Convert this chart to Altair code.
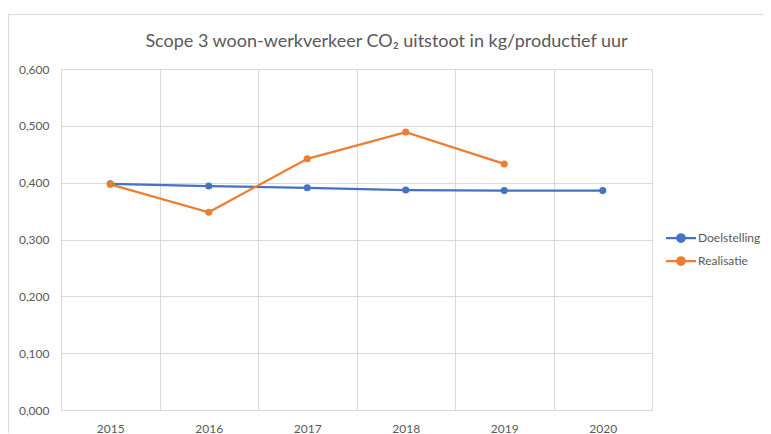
import altair as alt
import pandas as pd

years = ["2015", "2016", "2017", "2018", "2019", "2020"]
doelstelling = [0.398, 0.394, 0.391, 0.387, 0.386, 0.386]
realisatie = [0.397, 0.348, 0.442, 0.489, 0.433, None]
series_names = ["Doelstelling", "Realisatie"]
series_colors = ["#4472C4", "#ED7D31"]
y_ticks = [0.0, 0.1, 0.2, 0.3, 0.4, 0.5, 0.6]
title_text = "Scope 3 woon-werkverkeer CO\u2082 uitstoot in kg/productief uur"

rows = []
for name, vals in zip(series_names, [doelstelling, realisatie]):
    for yr, v in zip(years, vals):
        if v is not None:
            rows.append({"year": yr, "series": name, "value": v})
df = pd.DataFrame(rows)

FONT = "Lato"
GRAY = "#595959"
GRID = "#D9D9D9"

legend_symbol = (
    "M-1.2,0L1.2,0 "
    "M-0.3,0A0.3,0.3 0 1,0 0.3,0A0.3,0.3 0 1,0 -0.3,0 "
    "M-0.15,0A0.15,0.15 0 1,0 0.15,0A0.15,0.15 0 1,0 -0.15,0"
)

lines = (
    alt.Chart(df)
    .mark_line(strokeWidth=2.25, point=alt.OverlayMarkDef(size=50, filled=True))
    .encode(
        x=alt.X(
            "year:N",
            sort=years,
            scale=alt.Scale(paddingInner=0, paddingOuter=0),
            axis=alt.Axis(
                title=None,
                labelAngle=0,
                ticks=False,
                grid=True,
                tickBand="extent",
                gridColor=GRID,
                domainColor=GRID,
                labelFont=FONT,
                labelFontSize=12,
                labelColor=GRAY,
                labelPadding=13,
            ),
        ),
        y=alt.Y(
            "value:Q",
            scale=alt.Scale(domain=[0, 0.6], nice=False),
            axis=alt.Axis(
                title=None,
                values=y_ticks,
                labelExpr="replace(format(datum.value, '.3f'), '.', ',')",
                domain=False,
                ticks=False,
                gridColor=GRID,
                labelFont=FONT,
                labelFontSize=12,
                labelColor=GRAY,
                labelPadding=12,
            ),
        ),
        color=alt.Color(
            "series:N",
            scale=alt.Scale(domain=series_names, range=series_colors),
            legend=alt.Legend(
                title=None,
                orient="none",
                legendX=606,
                legendY=155,
                padding=0,
                rowPadding=0,
                symbolType=legend_symbol,
                symbolSize=625,
                symbolStrokeWidth=2.25,
                labelFont=FONT,
                labelFontSize=12,
                labelColor=GRAY,
                labelOffset=3,
                labelLimit=200,
            ),
        ),
    )
)

frame_src = pd.DataFrame({"k": [0]})
frame_left = alt.Chart(frame_src).mark_rule(color=GRID, strokeWidth=1).encode(
    x=alt.value(-52.5), y=alt.value(-54.5), y2=alt.value(364)
)
frame_top = alt.Chart(frame_src).mark_rule(color=GRID, strokeWidth=1).encode(
    x=alt.value(-52.5), x2=alt.value(702), y=alt.value(-54.5)
)

chart = (
    alt.layer(frame_left, frame_top, lines)
    .properties(
        width=591,
        height=341,
        padding={"left": 53, "top": 61, "right": 111, "bottom": 24},
        autosize="none",
        title=alt.TitleParams(
            text=title_text,
            font=FONT,
            fontSize=18,
            fontWeight="normal",
            color=GRAY,
            anchor="middle",
            offset=-37,
            dx=30,
        ),
    )
    .configure_view(stroke=None)
)

chart.save("out.html", embed_options={"renderer": "svg", "actions": False})
